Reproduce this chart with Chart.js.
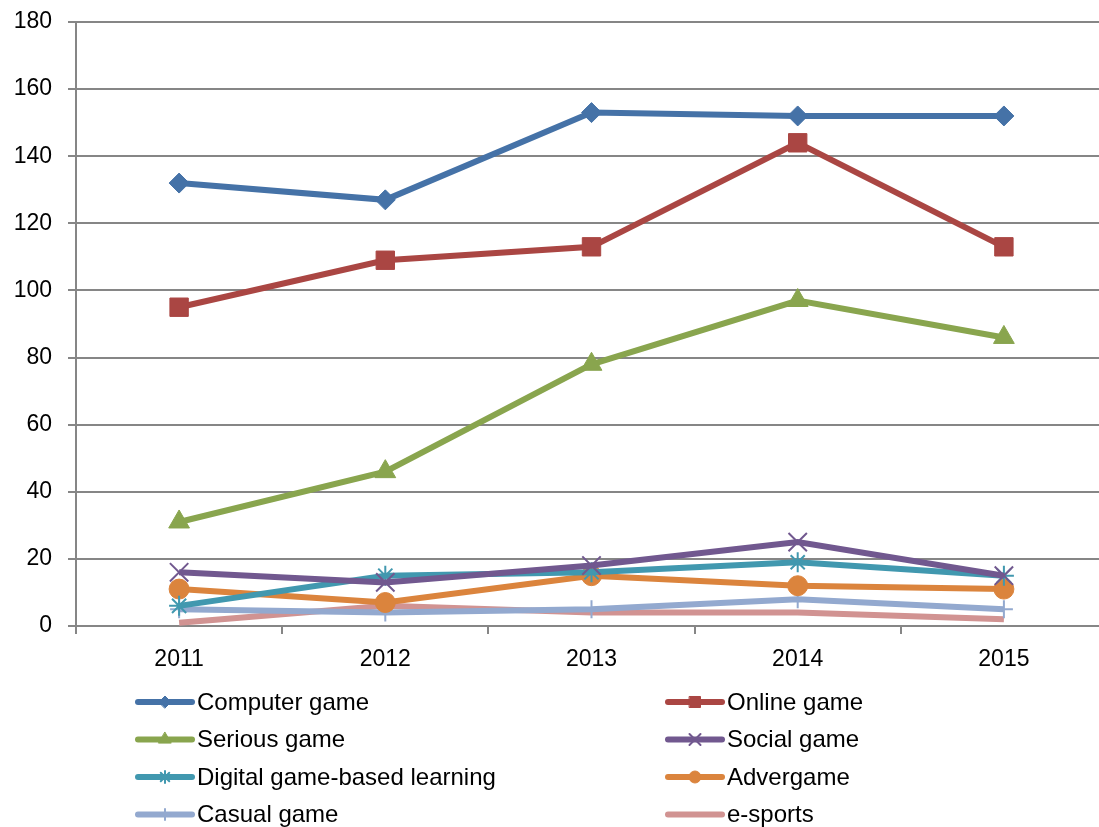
<!DOCTYPE html>
<html>
<head>
<meta charset="utf-8">
<script src="https://cdn.jsdelivr.net/npm/chart.js@4/dist/chart.umd.min.js"></script>
<style>
  html, body { margin: 0; padding: 0; background: #fff; overflow: hidden; }
  canvas { display: block; }
</style>
</head>
<body>
<canvas id="grafico" width="1122" height="827"></canvas>
<script>
// anos e valores de cada série
const anos = ["2011", "2012", "2013", "2014", "2015"];
const computerGame = [132, 127, 153, 152, 152];
const onlineGame = [95, 109, 113, 144, 113];
const seriousGame = [31, 46, 78, 97, 86];
const socialGame = [16, 13, 18, 25, 15];
const digitalLearning = [6, 15, 16, 19, 15];
const advergame = [11, 7, 15, 12, 11];
const casualGame = [5, 4, 5, 8, 5];
const eSports = [1, 6, 4, 4, 2];

const fonte = "'Liberation Sans', 'DejaVu Sans', sans-serif";

function serie(label, dados, cor, estilo, raio, borda) {
    return {
        label: label,
        data: dados,
        borderColor: cor,
        backgroundColor: cor,
        pointBackgroundColor: cor,
        pointBorderColor: cor,
        pointStyle: estilo,
        pointRadius: raio,
        pointHoverRadius: raio,
        pointBorderWidth: borda,
        borderWidth: 6,
        tension: 0
    };
}

const series = [
    serie("Computer game", computerGame, "#4572A7", "rectRot", 10, 1),
    serie("Online game", onlineGame, "#AA4643", "rect", 13, 1),
    serie("Serious game", seriousGame, "#89A54E", "triangle", 12, 1),
    serie("Social game", socialGame, "#71588F", "crossRot", 13, 2),
    serie("Digital game-based learning", digitalLearning, "#4198AF", "star", 10, 2),
    serie("Advergame", advergame, "#DB843D", "circle", 10, 1),
    serie("Casual game", casualGame, "#93A9CF", "cross", 9, 2),
    serie("e-sports", eSports, "#D19392", "circle", 0, 0)
];

// legenda em duas colunas por baixo do gráfico
const legendaColunas = {
    id: "legendaColunas",
    afterDraw(chart) {
        const ctx = chart.ctx;
        ctx.save();
        chart.data.datasets.forEach(function(ds, i) {
            const x0 = (i % 2 === 0) ? 138 : 668;
            const y = 702 + Math.floor(i / 2) * 37.5;
            ctx.strokeStyle = ds.borderColor;
            ctx.lineWidth = 6;
            ctx.lineCap = "round";
            ctx.beginPath();
            ctx.moveTo(x0, y);
            ctx.lineTo(x0 + 54, y);
            ctx.stroke();
            if (ds.pointRadius > 0) {
                ctx.fillStyle = ds.backgroundColor;
                ctx.lineWidth = ds.pointBorderWidth;
                Chart.helpers.drawPoint(ctx, {
                    pointStyle: ds.pointStyle,
                    radius: ds.pointRadius * 0.6,
                    borderWidth: ds.pointBorderWidth,
                    rotation: 0
                }, x0 + 27, y);
            }
            ctx.fillStyle = "#000";
            ctx.font = "24px " + fonte;
            ctx.textBaseline = "middle";
            ctx.textAlign = "left";
            ctx.fillText(ds.label, x0 + 59, y + 1);
        });
        ctx.restore();
    }
};

const ctx = document.getElementById("grafico").getContext("2d");
new Chart(ctx, {
    type: "line",
    data: { labels: anos, datasets: series },
    options: {
        responsive: false,
        animation: false,
        layout: { padding: { top: 22, right: 0, left: 0, bottom: 0 } },
        plugins: {
            legend: { display: false },
            tooltip: { enabled: false }
        },
        scales: {
            x: {
                offset: true,
                afterFit: function(scale) { scale.height = 201; },
                grid: {
                    offset: true,
                    drawOnChartArea: false,
                    color: "#868686",
                    lineWidth: 2,
                    tickLength: 8
                },
                border: { color: "#868686", width: 2 },
                ticks: {
                    color: "#000",
                    font: { family: fonte, size: 23 },
                    padding: 12
                }
            },
            y: {
                min: 0,
                max: 180,
                afterFit: function(scale) {
                    scale.width = 76;
                    scale.paddingTop = 0;
                    scale.paddingBottom = 0;
                },
                ticks: {
                    stepSize: 20,
                    color: "#000",
                    font: { family: fonte, size: 23 },
                    padding: 16
                },
                grid: {
                    color: "#868686",
                    lineWidth: 2,
                    tickLength: 8
                },
                border: { color: "#868686", width: 2 }
            }
        }
    },
    plugins: [legendaColunas]
});
</script>
</body>
</html>
